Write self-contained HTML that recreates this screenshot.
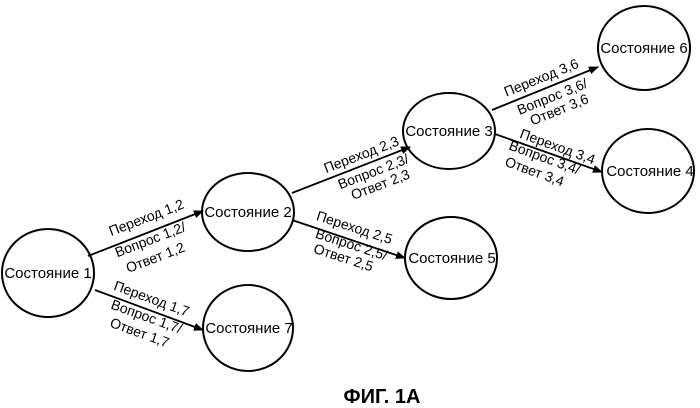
<!DOCTYPE html>
<html><head><meta charset="utf-8"><style>
html,body{margin:0;padding:0;background:#fff;}
svg{display:block;}
text{font-family:"Liberation Sans",Arial,sans-serif;font-size:14px;fill:#000;}
.n{font-size:15px;}
</style></head><body>
<svg width="700" height="408" viewBox="0 0 700 408">
<defs><marker id="a" markerWidth="10" markerHeight="8" refX="9" refY="4" orient="auto" markerUnits="userSpaceOnUse"><path d="M0,0L10,4L0,8z" fill="#000"/></marker></defs>
<g fill="none" stroke="#000" stroke-width="2">
<ellipse cx="48" cy="273" rx="46" ry="44"/>
<ellipse cx="248" cy="212" rx="46" ry="39"/>
<ellipse cx="248" cy="328" rx="45" ry="43"/>
<ellipse cx="449" cy="131" rx="46" ry="38"/>
<ellipse cx="644" cy="48" rx="46" ry="42"/>
<ellipse cx="648" cy="171" rx="46" ry="42"/>
<ellipse cx="451" cy="258" rx="46" ry="41"/>
<g stroke-width="1.8" marker-end="url(#a)">
<line x1="88" y1="256" x2="203" y2="211"/>
<line x1="95" y1="290" x2="203" y2="330"/>
<line x1="292" y1="193" x2="410" y2="147"/>
<line x1="292" y1="220" x2="405" y2="258"/>
<line x1="492" y1="110" x2="598" y2="67"/>
<line x1="495" y1="134" x2="602" y2="172"/>
</g></g>
<g text-anchor="middle">
<text class="n" x="48" y="278">Состояние 1</text>
<text class="n" x="248" y="217">Состояние 2</text>
<text class="n" x="249" y="333">Состояние 7</text>
<text class="n" x="449" y="136">Состояние 3</text>
<text class="n" x="644" y="53">Состояние 6</text>
<text class="n" x="650" y="176">Состояние  4</text>
<text class="n" x="452" y="263">Состояние 5</text>

<text transform="translate(148,222) rotate(-21)">Переход 1,2</text>
<text transform="translate(152,244) rotate(-21)">Вопрос 1,2/</text>
<text transform="translate(157,262) rotate(-21)">Ответ 1,2</text>

<text transform="translate(150,303) rotate(20)">Переход 1,7</text>
<text transform="translate(145,321) rotate(20)">Вопрос 1,7/</text>
<text transform="translate(138,337) rotate(20)">Ответ 1,7</text>

<text transform="translate(363,159) rotate(-21)">Переход 2,3</text>
<text transform="translate(375,176) rotate(-21)">Вопрос 2,3/</text>
<text transform="translate(382,189) rotate(-21)">Ответ 2,3</text>

<text transform="translate(353,232) rotate(18)">Переход 2,5</text>
<text transform="translate(350,249) rotate(18)">Вопрос 2,5/</text>
<text transform="translate(342,262) rotate(18)">Ответ 2,5</text>

<text transform="translate(543,82) rotate(-22)">Переход 3,6</text>
<text transform="translate(554,101) rotate(-22)">Вопрос 3,6/</text>
<text transform="translate(561,114) rotate(-22)">Ответ 3,6</text>

<text transform="translate(556,151) rotate(20)">Переход 3,4</text>
<text transform="translate(543,162) rotate(20)">Вопрос 3,4/</text>
<text transform="translate(533,176) rotate(20)">Ответ 3,4</text>

<text x="382" y="403" style="font-size:20px;font-weight:bold">ФИГ. 1А</text>
</g>
</svg>
</body></html>
